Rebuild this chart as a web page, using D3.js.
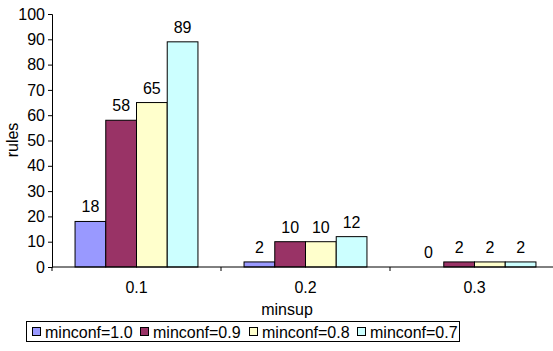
<!DOCTYPE html>
<html>
<head>
<meta charset="utf-8">
<script src="https://cdn.jsdelivr.net/npm/d3@7"></script>
<style>
  html, body { margin: 0; padding: 0; background: #fff; }
  svg { display: block; font-family: "Liberation Sans", Arial, sans-serif; }
</style>
</head>
<body>
<svg id="chart" width="553" height="351"></svg>
<script>
// Rule counts per minimum support, one series per minimum confidence
const categories = ["0.1", "0.2", "0.3"];
const seriesNames = ["minconf=1.0", "minconf=0.9", "minconf=0.8", "minconf=0.7"];
const conf10 = [18, 2, 0];
const conf09 = [58, 10, 2];
const conf08 = [65, 10, 2];
const conf07 = [89, 12, 2];
const yTicks = [0, 10, 20, 30, 40, 50, 60, 70, 80, 90, 100];
const colors = ["#9999FF", "#993366", "#FFFFCC", "#CCFFFF"];

const series = [conf10, conf09, conf08, conf07];

const svg = d3.select("#chart");
const plotLeft = 52, plotRight = 559, plotTop = 14, plotBottom = 267;

const x = d3.scaleBand().domain(categories).range([plotLeft, plotRight]).paddingInner(0).paddingOuter(0);
const inner = d3.scaleBand().domain(d3.range(seriesNames.length))
  .range([0, x.bandwidth()]).paddingInner(0).paddingOuter(0.75);
const y = d3.scaleLinear().domain([0, 100]).range([plotBottom, plotTop]);

// Bars with value labels
const groups = svg.append("g").selectAll("g")
  .data(categories).join("g")
  .attr("transform", d => `translate(${x(d)},0)`);

groups.each(function (cat, ci) {
  const g = d3.select(this);
  series.forEach((vals, si) => {
    const v = vals[ci];
    if (v > 0) {
      g.append("rect")
        .attr("x", inner(si))
        .attr("y", y(v))
        .attr("width", inner.bandwidth())
        .attr("height", y(0) - y(v))
        .attr("fill", colors[si])
        .attr("stroke", "#000")
        .attr("stroke-width", 1);
    }
    g.append("text")
      .attr("x", inner(si) + inner.bandwidth() / 2)
      .attr("y", y(v) - 9)
      .attr("text-anchor", "middle")
      .attr("font-size", 16)
      .attr("fill", "#000")
      .text(v);
  });
});

// Y axis
const yAxis = d3.axisLeft(y).tickValues(yTicks).tickSize(4).tickPadding(3);
const gy = svg.append("g").attr("transform", `translate(${plotLeft},0)`).call(yAxis);
gy.attr("font-size", 16).attr("font-family", "Liberation Sans, Arial, sans-serif");
gy.selectAll("text").attr("fill", "#000");
gy.selectAll("line, path").attr("stroke", "#000");

// X axis: ticks at band boundaries
const gx = svg.append("g").attr("transform", `translate(0,${plotBottom})`);
gx.append("line").attr("x1", plotLeft).attr("x2", plotRight).attr("stroke", "#000");
const bounds = categories.map(c => x(c)).concat([plotRight]);
gx.selectAll("line.tick").data(bounds).join("line")
  .attr("class", "tick")
  .attr("x1", d => d).attr("x2", d => d)
  .attr("y1", 0).attr("y2", 4).attr("stroke", "#000");
gx.selectAll("text").data(categories).join("text")
  .attr("x", d => x(d) + x.bandwidth() / 2)
  .attr("y", 26)
  .attr("text-anchor", "middle")
  .attr("font-size", 16)
  .text(d => d);

// Axis titles
svg.append("text").attr("x", 287).attr("y", 315)
  .attr("text-anchor", "middle").attr("font-size", 16).text("minsup");
svg.append("text").attr("transform", "translate(18,140) rotate(-90)")
  .attr("text-anchor", "middle").attr("font-size", 16).text("rules");

// Legend
const legend = svg.append("g");
legend.append("rect").attr("x", 26.5).attr("y", 321.5).attr("width", 433).attr("height", 20)
  .attr("fill", "#fff").attr("stroke", "#000");
const legendX = [32, 140, 249, 357];
seriesNames.forEach((name, i) => {
  legend.append("rect").attr("x", legendX[i] + 0.5).attr("y", 327.5).attr("width", 8).attr("height", 8)
    .attr("fill", colors[i]).attr("stroke", "#000");
  legend.append("text").attr("x", legendX[i] + 13).attr("y", 337.5)
    .attr("font-size", 16).text(name);
});
</script>
</body>
</html>
